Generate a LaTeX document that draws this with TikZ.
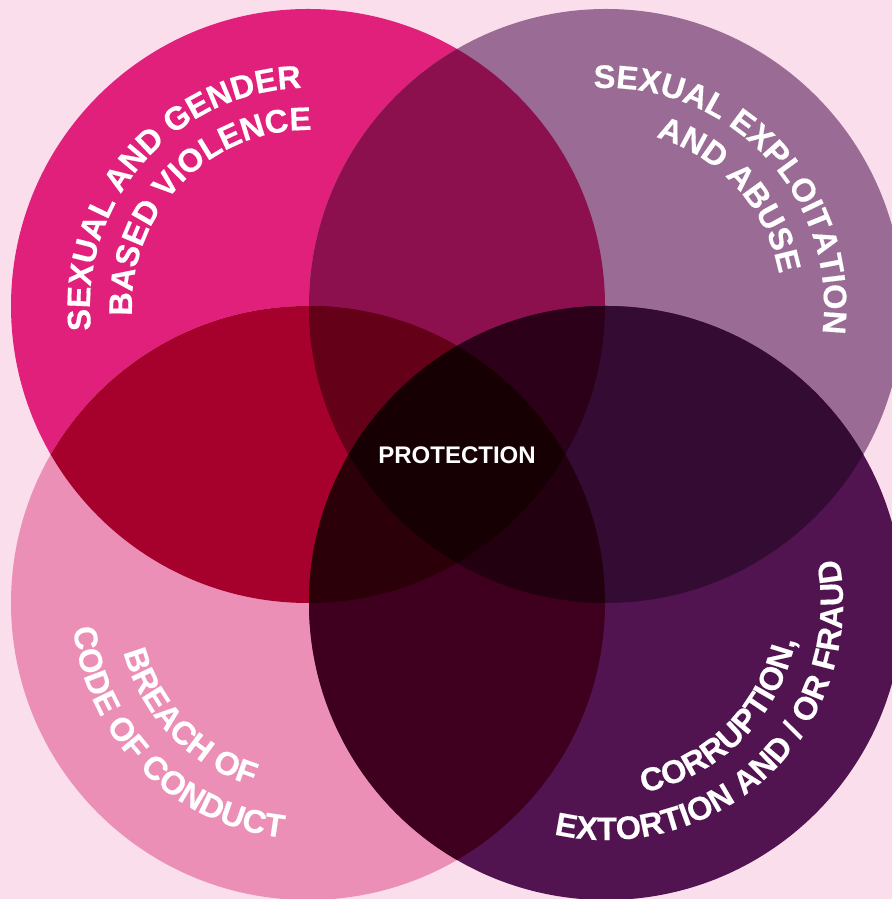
\documentclass[tikz,border=0pt]{standalone}
\usepackage{fontspec}
\setmainfont{Liberation Sans}
\newfontfamily\heavyfont[BoldFont={Liberation Sans Bold}, BoldFeatures={FakeBold=0.4}]{Liberation Sans}
\usetikzlibrary{decorations.text}
\definecolor{bgc}{HTML}{FBDEEB}
\definecolor{cA}{HTML}{E0207A}   % top-left
\definecolor{cB}{HTML}{9A6B95}   % top-right
\definecolor{cC}{HTML}{EC8FB7}   % bottom-left
\definecolor{cD}{HTML}{521451}   % bottom-right
\definecolor{cAB}{HTML}{8C104E}
\definecolor{cAC}{HTML}{A6002C}
\definecolor{cBD}{HTML}{340C33}
\definecolor{cCD}{HTML}{3E001E}
\definecolor{cAD}{HTML}{2D0010}
\definecolor{cBC}{HTML}{400020}
\definecolor{cABC}{HTML}{650019}
\definecolor{cABD}{HTML}{2D001A}
\definecolor{cACD}{HTML}{2C0008}
\definecolor{cBCD}{HTML}{22000F}
\definecolor{cABCD}{HTML}{170003}
\newcommand{\arcfont}{\heavyfont\fontsize{16.3pt}{19pt}\selectfont\bfseries}
\tikzset{
  arctext/.style={decorate, decoration={text along path, text align=center, text color=white, text={|\arcfont|#1}}},
  centerlabel/.style={text=white, font=\fontsize{12pt}{14pt}\selectfont\bfseries, inner sep=0pt}
}
\begin{document}
\begin{tikzpicture}[x=0.5pt,y=0.5pt]
\useasboundingbox (0,0) rectangle (892,899);
\clip (0,0) rectangle (892,899);
\fill[bgc] (0,0) rectangle (892,899);
\coordinate (A) at (308,593);
\coordinate (B) at (606,593);
\coordinate (C) at (308,296);
\coordinate (D) at (606,296);
\def\R{297}
% single circles
\fill[cA] (A) circle (\R);
\fill[cB] (B) circle (\R);
\fill[cC] (C) circle (\R);
\fill[cD] (D) circle (\R);
% pairs
\begin{scope}\clip (A) circle (\R); \fill[cAB] (B) circle (\R);\end{scope}
\begin{scope}\clip (A) circle (\R); \fill[cAC] (C) circle (\R);\end{scope}
\begin{scope}\clip (A) circle (\R); \fill[cAD] (D) circle (\R);\end{scope}
\begin{scope}\clip (B) circle (\R); \fill[cBC] (C) circle (\R);\end{scope}
\begin{scope}\clip (B) circle (\R); \fill[cBD] (D) circle (\R);\end{scope}
\begin{scope}\clip (C) circle (\R); \fill[cCD] (D) circle (\R);\end{scope}
% triples
\begin{scope}\clip (A) circle (\R); \clip (B) circle (\R); \fill[cABC] (C) circle (\R);\end{scope}
\begin{scope}\clip (A) circle (\R); \clip (B) circle (\R); \fill[cABD] (D) circle (\R);\end{scope}
\begin{scope}\clip (A) circle (\R); \clip (C) circle (\R); \fill[cACD] (D) circle (\R);\end{scope}
\begin{scope}\clip (B) circle (\R); \clip (C) circle (\R); \fill[cBCD] (D) circle (\R);\end{scope}
% all four
\begin{scope}\clip (A) circle (\R); \clip (B) circle (\R); \clip (C) circle (\R); \fill[cABCD] (D) circle (\R);\end{scope}
% curved labels
\path[arctext={SEXUAL AND GENDER}] (A) ++(209:218) arc[start angle=209, end angle=69, radius=218];
\path[arctext={BASED VIOLENCE}] (A) ++(206:176) arc[start angle=206, end angle=66, radius=176];
\path[arctext={SEXUAL EXPLOITATION}] (B) ++(113:218) arc[start angle=113, end angle=-27, radius=218];
\path[arctext={AND ABUSE}] (B) ++(112:176) arc[start angle=112, end angle=-28, radius=176];
\path[arctext={BREACH OF}] (C) ++(154:191) arc[start angle=154, end angle=294, radius=191];
\path[arctext={CODE OF CONDUCT}] (C) ++(155:236) arc[start angle=155, end angle=295, radius=236];
\path[arctext={CORRUPTION,}] (D) ++(245:193) arc[start angle=245, end angle=385, radius=193];
\path[arctext={EXTORTION AND / OR FRAUD}] (D) ++(244:237) arc[start angle=244, end angle=384, radius=237];
\node[centerlabel] (prot) at (457,444) {PROTECTION};
\end{tikzpicture}
\end{document}
